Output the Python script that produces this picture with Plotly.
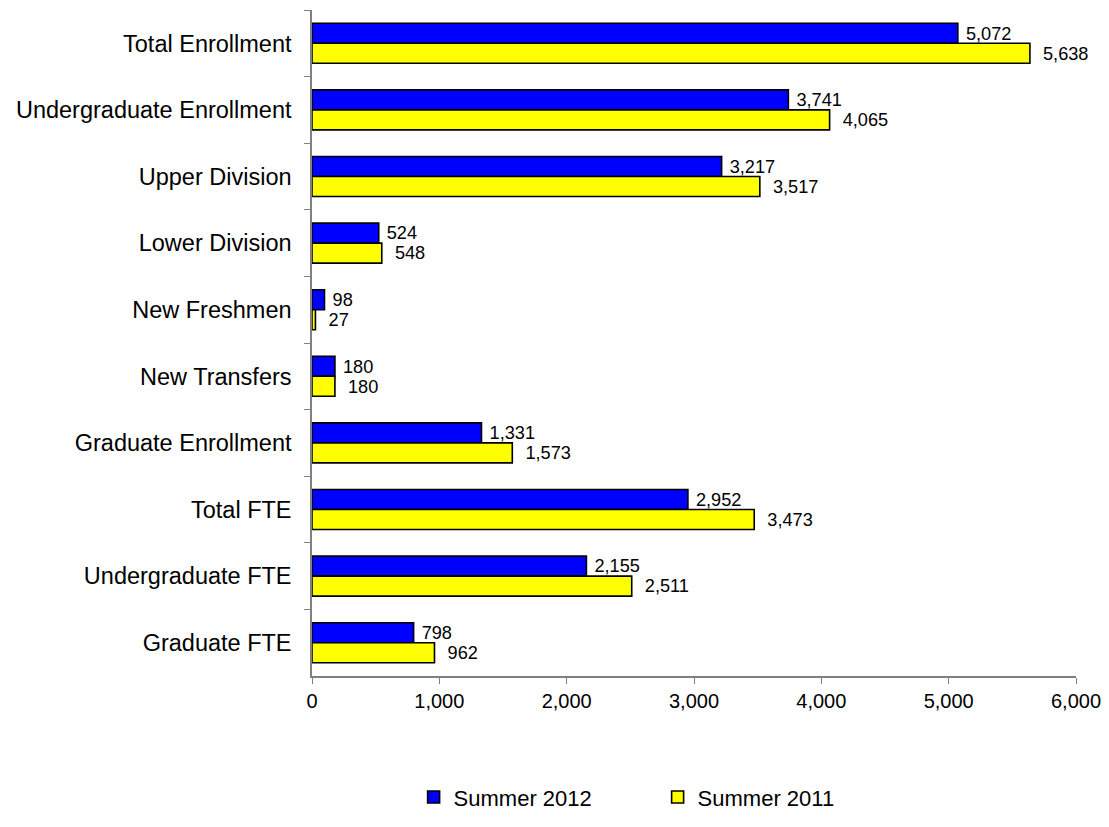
import plotly.graph_objects as go

categories = ["Total Enrollment", "Undergraduate Enrollment", "Upper Division",
              "Lower Division", "New Freshmen", "New Transfers",
              "Graduate Enrollment", "Total FTE", "Undergraduate FTE", "Graduate FTE"]
summer_2012 = [5072, 3741, 3217, 524, 98, 180, 1331, 2952, 2155, 798]
summer_2011 = [5638, 4065, 3517, 548, 27, 180, 1573, 3473, 2511, 962]
x_ticks = [0, 1000, 2000, 3000, 4000, 5000, 6000]

font_family = "Liberation Sans, Arial, sans-serif"

def lbl(vals, pad):
    return [pad + f"{v:,}" for v in vals]

fig = go.Figure()
fig.add_trace(go.Bar(
    y=categories, x=summer_2012, orientation="h", name="Summer 2012",
    marker=dict(color="#0000FF", line=dict(color="#000000", width=1.6)),
    text=lbl(summer_2012, " "), textposition="outside", cliponaxis=False,
    textfont=dict(size=20, color="#000000", family=font_family),
))
fig.add_trace(go.Bar(
    y=categories, x=summer_2011, orientation="h", name="Summer 2011",
    marker=dict(color="#FFFF00", line=dict(color="#000000", width=1.6)),
    text=lbl(summer_2011, "  "), textposition="outside", cliponaxis=False,
    textfont=dict(size=20, color="#000000", family=font_family),
))

# the page body has an 8px default margin, so the figure is shrunk to compensate
fig.update_layout(
    width=1101, height=819,
    margin=dict(l=304, r=33, t=2, b=151, autoexpand=False),
    paper_bgcolor="white", plot_bgcolor="white",
    barmode="group", bargap=0.4, bargroupgap=0,
    font=dict(family=font_family, size=20, color="#000000"),
    showlegend=True,
    legend=dict(orientation="h", x=0.133, xanchor="left", y=-0.182, yanchor="middle",
                traceorder="normal", font=dict(size=22, color="#000000"),
                entrywidth=199, entrywidthmode="pixels",
                itemwidth=30, bgcolor="rgba(0,0,0,0)"),
)
fig.update_xaxes(
    range=[0, 6000], tickvals=x_ticks, ticktext=[f"{v:,}" for v in x_ticks],
    showgrid=False, zeroline=False, showline=True, linecolor="#808080", linewidth=1.5,
    ticks="outside", ticklen=6, tickcolor="#808080", tickfont=dict(size=20, color="#000000"),
    automargin=False, fixedrange=True,
)
fig.update_yaxes(
    autorange="reversed", showgrid=False, zeroline=False,
    showline=True, linecolor="#808080", linewidth=1.5,
    ticks="outside", ticklen=6, tickcolor="#808080", tickson="boundaries",
    tickfont=dict(size=23.5, color="#000000"), ticklabelstandoff=14,
    automargin=False, fixedrange=True,
)

fig.write_html("out.html")
